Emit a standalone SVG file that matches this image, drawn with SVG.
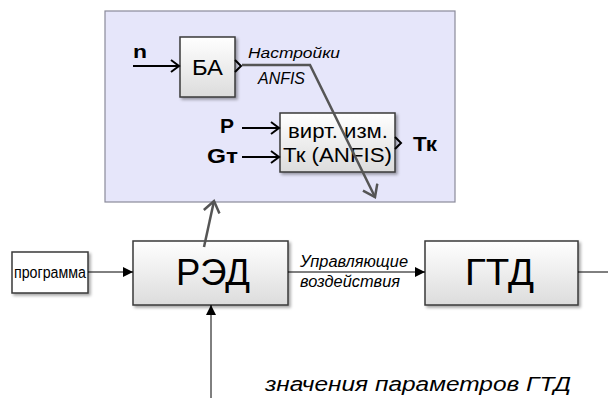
<svg xmlns="http://www.w3.org/2000/svg" width="608" height="398" viewBox="0 0 608 398">
<style>
.box{fill:url(#g);stroke:#3a3a3a;stroke-width:1.5;filter:url(#sh)}
.t{font-family:"Liberation Sans",Arial,sans-serif;fill:#000}
.ln{stroke:#000;stroke-width:1;fill:none}
.bl{stroke:#000;stroke-width:2;fill:none}
.gr{stroke:#555;stroke-width:2.5;fill:none}
</style>
<defs>
<linearGradient id="g" x1="0" y1="0" x2="0" y2="1">
<stop offset="0" stop-color="#ffffff"/><stop offset="1" stop-color="#dcdcdc"/>
</linearGradient>
<filter id="sh" x="-10%" y="-10%" width="130%" height="130%">
<feDropShadow dx="2" dy="2" stdDeviation="1.5" flood-color="#000" flood-opacity="0.35"/>
</filter>
<marker id="fa" markerWidth="10" markerHeight="10" refX="10" refY="5" orient="auto" markerUnits="userSpaceOnUse">
<path d="M0,0 L10,5 L0,10 z" fill="#000"/>
</marker>
<marker id="oa" markerWidth="12" markerHeight="14" refX="10" refY="7" orient="auto" markerUnits="userSpaceOnUse">
<path d="M2,1 L10,7 L2,13" fill="none" stroke="#000" stroke-width="2"/>
</marker>
<marker id="ga" markerWidth="16" markerHeight="18" refX="14" refY="9" orient="auto" markerUnits="userSpaceOnUse">
<path d="M3,1 L14,9 L3,17" fill="none" stroke="#555" stroke-width="2.5"/>
</marker>
</defs>
<rect id="panel" x="105" y="11" width="350" height="191" fill="#e6e6fa" stroke="#8a8a9a" stroke-width="1.2"/>
<g id="ba">
<rect class="box" x="180" y="37" width="55" height="60"/>
<text class="t" x="192" y="75" font-size="22" textLength="31" lengthAdjust="spacingAndGlyphs">БА</text>
<path d="M235,60 L241,66 L235,72" class="bl"/>
</g>
<g id="virt">
<rect class="box" x="280" y="113" width="115" height="59"/>
<text class="t" x="288" y="138" font-size="21" textLength="100" lengthAdjust="spacingAndGlyphs">вирт. изм.</text>
<text class="t" x="283" y="162" font-size="21" textLength="109" lengthAdjust="spacingAndGlyphs">Тк (ANFIS)</text>
<path d="M395,137 L401,143 L395,149" class="bl"/>
</g>
<g id="red">
<rect class="box" x="133" y="241" width="155" height="64"/>
<text class="t" x="176" y="285" font-size="37" textLength="74" lengthAdjust="spacingAndGlyphs">РЭД</text>
</g>
<g id="gtd">
<rect class="box" x="425" y="241" width="153" height="64"/>
<text class="t" x="465" y="285" font-size="37" textLength="69" lengthAdjust="spacingAndGlyphs">ГТД</text>
</g>
<g id="prog">
<rect x="12" y="252" width="76" height="41" fill="#fff" stroke="#3a3a3a" stroke-width="1.5" filter="url(#sh)"/>
<text class="t" x="14" y="278" font-size="16" textLength="72" lengthAdjust="spacingAndGlyphs">программа</text>
</g>
<g id="labels">
<text class="t" x="133" y="58" font-size="19" font-weight="bold" textLength="14" lengthAdjust="spacingAndGlyphs">n</text>
<text class="t" x="220" y="133" font-size="21" font-weight="bold" textLength="14" lengthAdjust="spacingAndGlyphs">P</text>
<text class="t" x="207" y="163" font-size="21" font-weight="bold" textLength="31" lengthAdjust="spacingAndGlyphs">Gт</text>
<text class="t" x="413" y="151" font-size="21" font-weight="bold" textLength="24" lengthAdjust="spacingAndGlyphs">Тк</text>
<text class="t" x="248" y="58" font-size="15" font-style="italic" textLength="92" lengthAdjust="spacingAndGlyphs">Настройки</text>
<text class="t" x="258" y="84" font-size="16" font-style="italic" textLength="47" lengthAdjust="spacingAndGlyphs">ANFIS</text>
<text class="t" x="300" y="267" font-size="16" font-style="italic" textLength="108" lengthAdjust="spacingAndGlyphs">Управляющие</text>
<text class="t" x="300" y="287" font-size="16" font-style="italic" textLength="100" lengthAdjust="spacingAndGlyphs">воздействия</text>
<text class="t" x="265" y="391" font-size="20" font-style="italic" textLength="306" lengthAdjust="spacingAndGlyphs">значения параметров ГТД</text>
</g>
<g id="connectors">
<line class="bl" x1="133" y1="66" x2="179" y2="66" marker-end="url(#oa)"/>
<line class="bl" x1="242" y1="128" x2="279" y2="128" marker-end="url(#oa)"/>
<line class="bl" x1="242" y1="157" x2="279" y2="157" marker-end="url(#oa)"/>
<polyline class="gr" points="242,65 310,65 375,197" marker-end="url(#ga)"/>
<line class="gr" x1="204" y1="247" x2="214" y2="201" marker-end="url(#ga)"/>
<line class="ln" x1="88" y1="272" x2="133" y2="272" marker-end="url(#fa)"/>
<line class="ln" x1="288" y1="272" x2="425" y2="272" marker-end="url(#fa)"/>
<line class="ln" x1="578" y1="272" x2="608" y2="272"/>
<line class="ln" x1="211" y1="398" x2="211" y2="305" marker-end="url(#fa)"/>
</g>
</svg>
